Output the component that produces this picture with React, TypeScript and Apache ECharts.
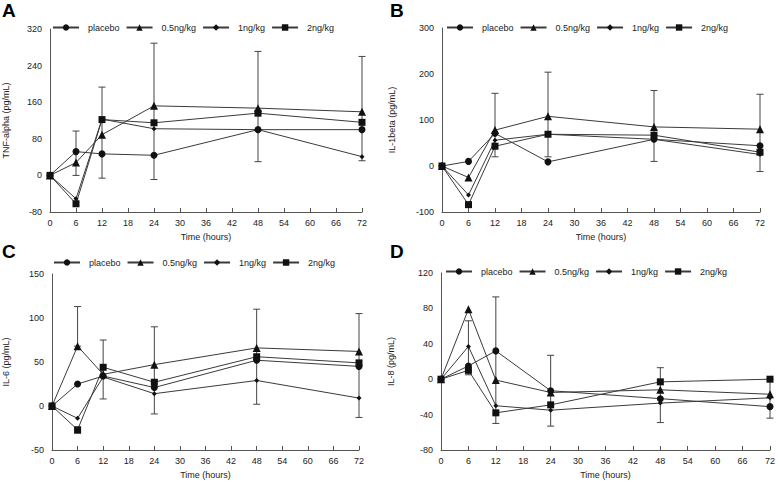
import { useEffect, useRef } from "react";
import * as echarts from "echarts";

// sampling times (hours)
const hours = [0, 6, 12, 24, 48, 72];
const groupNames = ["placebo", "0.5ng/kg", "1ng/kg", "2ng/kg"];
const groupSymbols = ["circle", "triangle", "diamond", "rect"];
const groupSymbolSizes = [7, 8, 5, 7];

// A: TNF-alpha
const tnfPlacebo = [0, 52, 47, 44, 100, 100];
const tnfLow = [0, 28, 89, 152, 147, 139];
const tnfMid = [0, -51, 123, 102, 100, 41];
const tnfHigh = [0, -62, 122, 115, 136, 116];
const tnfErr = [
  [6, 0, 97],
  [12, -6, 193],
  [24, -9, 289],
  [48, 30, 271],
  [72, 32, 260],
];

// B: IL-1beta
const il1Placebo = [0, 10, 71, 9, 58, 44];
const il1Low = [0, -25, 78, 108, 85, 80];
const il1Mid = [0, -63, 56, 69, 58, 25];
const il1High = [0, -84, 43, 69, 67, 30];
const il1Err = [
  [12, 20, 158],
  [24, 20, 204],
  [48, 10, 164],
  [72, -12, 156],
];

// C: IL-6
const il6Placebo = [0, 25, 34, 21, 52, 45];
const il6Low = [0, 68, 36, 47, 66, 62];
const il6Mid = [0, -14, 33, 14, 29, 9];
const il6High = [0, -27, 44, 27, 56, 49];
const il6Err = [
  [6, 68, 113],
  [6, -31, -27],
  [12, 8, 75],
  [24, -9, 90],
  [48, 2, 110],
  [72, -13, 105],
];

// D: IL-8
const il8Placebo = [0, 15, 32, -13, -22, -31];
const il8Low = [0, 79, -1, -15, -12, -17];
const il8Mid = [0, 37, -30, -35, -27, -21];
const il8High = [0, 10, -38, -29, -3, 0];
const il8Err = [
  [6, 5, 66],
  [12, -50, 93],
  [24, -53, 27],
  [48, -49, 13],
  [72, -44, 0],
];

const panels = [
  { letter: "A", yName: "TNF-alpha (pg/mL)", yMin: -80, yMax: 320, yStep: 80, values: [tnfPlacebo, tnfLow, tnfMid, tnfHigh], err: tnfErr },
  { letter: "B", yName: "IL-1beta (pg/mL)", yMin: -100, yMax: 300, yStep: 100, values: [il1Placebo, il1Low, il1Mid, il1High], err: il1Err },
  { letter: "C", yName: "IL-6 (pg/mL)", yMin: -50, yMax: 150, yStep: 50, values: [il6Placebo, il6Low, il6Mid, il6High], err: il6Err },
  { letter: "D", yName: "IL-8 (pg/mL)", yMin: -80, yMax: 120, yStep: 40, values: [il8Placebo, il8Low, il8Mid, il8High], err: il8Err },
];

// pixel layout of each panel
const layout = [
  { left: 48, top: 29, width: 314, height: 183, nameGap: 40, legendTop: 18, letterX: 2, letterY: 1 },
  { left: 442, top: 28, width: 318, height: 184, nameGap: 46, legendTop: 18, letterX: 390, letterY: 1 },
  { left: 49, top: 274, width: 310, height: 176, nameGap: 42, legendTop: 253, letterX: 2, letterY: 242 },
  { left: 441, top: 273, width: 331, height: 177, nameGap: 46, legendTop: 262, letterX: 390, letterY: 242 },
];

const ink = "#222";
const lineColor = "#3a3a3a";
const axisColor = "#555";
const font = "Liberation Sans, Arial, sans-serif";

export default function App() {
  const ref = useRef<HTMLDivElement>(null);

  useEffect(() => {
    document.body.style.margin = "0";
    const el = ref.current;
    if (!el) return;
    const chart = echarts.init(el, undefined, { renderer: "svg" });

    const grid: any[] = [];
    const xAxis: any[] = [];
    const yAxis: any[] = [];
    const legend: any[] = [];
    const series: any[] = [];
    const graphic: any[] = [];

    panels.forEach((p, i) => {
      const L = layout[i];
      grid.push({ left: L.left, top: L.top, width: L.width, height: L.height, containLabel: false });
      xAxis.push({
        type: "value",
        gridIndex: i,
        min: 0,
        max: 72,
        interval: 6,
        name: "Time (hours)",
        nameLocation: "middle",
        nameGap: 20,
        nameTextStyle: { color: ink, fontSize: 9, fontFamily: font },
        axisLine: { onZero: false, lineStyle: { color: axisColor, width: 1 } },
        axisTick: { inside: true, length: 4, lineStyle: { color: axisColor } },
        axisLabel: { color: ink, fontSize: 9, fontFamily: font, margin: 6 },
        splitLine: { show: false },
      });
      yAxis.push({
        type: "value",
        gridIndex: i,
        min: p.yMin,
        max: p.yMax,
        interval: p.yStep,
        name: p.yName,
        nameLocation: "middle",
        nameGap: L.nameGap,
        nameRotate: 90,
        nameTextStyle: { color: ink, fontSize: 9, fontFamily: font },
        axisLine: { show: true, lineStyle: { color: axisColor, width: 1 } },
        axisTick: { show: false },
        axisLabel: { color: ink, fontSize: 9, fontFamily: font, margin: 8 },
        splitLine: { show: false },
      });
      legend.push({
        left: L.left - 1,
        top: L.legendTop,
        itemWidth: 26,
        itemHeight: 8,
        itemGap: 6,
        data: groupNames,
        selectedMode: false,
        textStyle: { color: ink, fontSize: 9, fontFamily: font, padding: [0, 0, 0, 4] },
      });
      series.push({
        type: "custom",
        xAxisIndex: i,
        yAxisIndex: i,
        z: 1,
        silent: true,
        encode: { x: 0, y: [1, 2] },
        data: p.err,
        renderItem: (_params: any, api: any) => {
          const x = api.value(0);
          const top = api.coord([x, api.value(2)]);
          const bot = api.coord([x, api.value(1)]);
          const style = { stroke: "#444", lineWidth: 1 };
          return {
            type: "group",
            children: [
              { type: "line", shape: { x1: top[0], y1: top[1], x2: bot[0], y2: bot[1] }, style },
              { type: "line", shape: { x1: top[0] - 3.5, y1: top[1], x2: top[0] + 3.5, y2: top[1] }, style },
              { type: "line", shape: { x1: bot[0] - 3.5, y1: bot[1], x2: bot[0] + 3.5, y2: bot[1] }, style },
            ],
          };
        },
      });
      groupNames.forEach((name, g) => {
        series.push({
          type: "line",
          name,
          xAxisIndex: i,
          yAxisIndex: i,
          z: 3,
          data: hours.map((h, k) => [h, p.values[g][k]]),
          symbol: groupSymbols[g],
          symbolSize: groupSymbolSizes[g],
          showAllSymbol: true,
          lineStyle: { color: lineColor, width: 1 },
          itemStyle: { color: "#111", borderWidth: 0 },
        });
      });
      graphic.push({
        type: "text",
        left: L.letterX,
        top: L.letterY,
        style: { text: p.letter, fill: "#000", font: `bold 19px ${font}` },
      });
    });

    chart.setOption({
      animation: false,
      backgroundColor: "#fff",
      textStyle: { fontFamily: font },
      grid,
      xAxis,
      yAxis,
      legend,
      series,
      graphic,
    });

    return () => chart.dispose();
  }, []);

  return <div ref={ref} style={{ width: 778, height: 484 }} />;
}
